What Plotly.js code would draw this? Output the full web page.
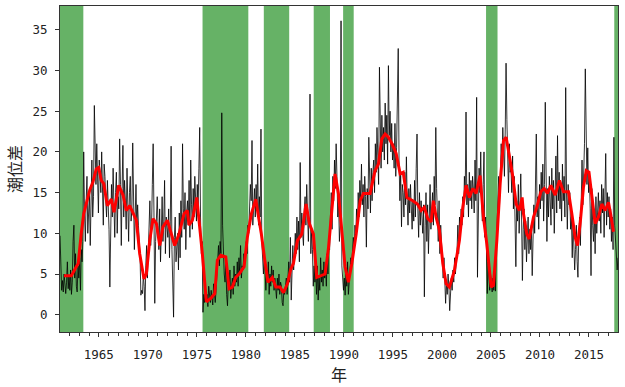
<!DOCTYPE html>
<html><head><meta charset="utf-8">
<script src="https://cdn.plot.ly/plotly-3.0.1.min.js"></script>
<style>body{margin:0;background:#fff}</style>
</head><body><div id="chart" style="width:625px;height:387px"></div>
<script>
// Monthly tide-level difference, one row per year (Jan..Dec), 1961-2017
const startYear = 1961;
const monthlyRows = [
[9.7,4.5,3.0,4.2,2.8,5.0,3.5,2.6,4.0,6.5,3.2,4.8],
[3.0,5.5,2.5,4.0,9.0,11.0,4.5,7.5,3.5,2.8,6.0,4.5],
[7.0,3.0,8.0,6.5,9.0,20.0,12.5,9.0,14.0,17.0,10.0,13.0],
[15.0,8.5,17.5,19.0,12.0,14.5,25.7,18.0,16.0,21.0,15.0,12.5],
[19.0,17.5,15.0,20.0,13.0,11.0,18.5,17.0,14.0,12.0,16.5,13.5],
[10.5,3.4,14.0,16.0,12.0,18.0,13.5,9.5,15.0,17.5,10.0,14.5],
[13.0,21.6,16.0,8.5,15.5,20.8,12.0,16.5,14.0,10.5,18.0,12.5],
[9.0,15.0,17.0,11.5,13.0,21.1,14.5,8.0,12.0,16.0,10.5,13.5],
[11.0,9.5,7.0,2.4,3.0,2.6,5.0,3.5,0.5,6.0,8.5,4.5],
[7.5,12.0,14.0,8.5,10.5,16.0,21.0,12.5,1.4,9.0,11.5,14.5],
[11.0,8.0,13.0,6.5,10.0,14.5,9.0,11.5,16.5,7.5,12.0,10.5],
[9.5,13.0,7.0,11.5,20.7,8.0,4.0,-0.3,9.5,12.0,6.5,8.5],
[10.0,5.5,12.5,7.0,14.0,9.5,21.0,13.0,10.5,15.0,8.0,12.5],
[14.0,11.0,16.5,9.5,19.0,13.5,10.5,15.5,12.0,17.0,14.5,11.5],
[16.0,13.0,18.0,23.0,12.0,7.5,9.0,0.3,2.5,1.5,3.0,1.8],
[2.5,1.0,3.5,2.0,1.5,3.0,2.2,1.2,3.8,2.5,1.5,3.0],
[5.5,7.0,8.5,6.0,9.0,7.5,24.8,11.0,6.5,5.0,4.0,6.5],
[2.5,1.1,4.0,3.0,5.5,2.0,3.5,4.5,2.5,6.0,3.5,5.0],
[4.0,6.5,3.5,7.0,5.0,8.5,4.5,6.0,5.5,7.5,6.5,8.0],
[9.0,7.5,11.0,10.0,12.5,16.0,14.0,21.4,11.0,13.5,15.5,12.0],
[16.0,13.0,18.5,11.0,14.5,12.0,22.8,9.0,6.0,5.0,7.5,4.0],
[3.0,5.5,4.0,6.5,2.5,5.0,3.5,6.0,4.0,5.5,3.0,4.5],
[3.5,2.0,4.5,3.0,5.0,2.5,4.0,3.5,1.5,1.1,3.0,2.5],
[3.5,4.5,2.5,5.0,6.5,4.0,9.5,1.8,7.0,8.5,5.5,9.0],
[10.0,7.5,12.0,8.0,11.5,6.5,18.7,9.5,12.5,10.0,8.5,13.0],
[14.5,11.0,16.0,12.5,9.0,13.0,27.1,7.5,10.5,8.0,3.5,6.0],
[4.0,5.5,2.5,6.0,1.8,4.5,3.0,7.0,4.0,5.5,3.5,6.5],
[4.5,6.0,3.5,7.5,5.0,9.0,8.0,12.0,15.0,10.5,17.0,14.0],
[19.0,15.5,21.0,17.0,12.0,14.0,9.0,11.0,36.1,6.0,4.0,3.0],
[4.5,2.4,5.0,3.5,6.5,2.5,4.0,5.5,7.0,6.0,8.5,9.5],
[8.0,11.0,9.5,13.0,10.5,15.0,12.0,16.5,14.0,18.5,13.5,16.0],
[12.0,17.0,14.5,8.3,15.5,13.0,21.8,16.0,12.5,18.0,14.0,17.5],
[19.0,15.0,21.0,17.5,23.0,19.5,16.0,30.4,22.0,18.0,24.5,20.0],
[23.0,19.0,26.0,21.0,24.5,18.5,30.6,22.0,25.0,20.0,23.5,19.0],
[21.0,18.0,23.5,17.0,20.5,25.0,32.7,19.0,14.0,17.5,10.8,16.0],
[15.0,12.0,17.5,13.5,19.4,14.0,11.0,15.5,12.5,16.0,13.0,10.5],
[14.0,11.5,16.5,12.0,18.0,22.2,13.0,9.5,15.0,11.0,14.0,12.5],
[10.0,13.5,2.2,11.0,15.0,9.0,13.5,7.5,12.0,16.0,10.5,12.5],
[15.0,11.0,17.0,13.5,23.0,15.5,12.0,9.0,14.0,7.5,11.0,8.5],
[6.0,4.5,7.0,3.0,1.4,4.0,2.5,5.0,3.5,0.5,2.0,4.5],
[3.0,5.5,4.0,7.0,5.0,6.5,8.0,11.0,7.5,12.0,9.5,13.0],
[11.0,14.5,12.0,17.0,15.0,24.9,13.5,16.0,12.0,17.5,14.0,16.5],
[13.0,17.0,15.5,12.5,19.0,14.0,26.7,4.6,16.5,18.0,15.0,20.0],
[14.0,11.5,16.0,20.0,9.5,12.0,8.0,2.6,6.5,4.0,3.0,5.0],
[3.5,2.8,4.5,3.0,5.5,2.9,8.0,11.5,14.0,17.0,13.5,19.0],
[21.0,18.5,23.0,20.0,17.0,22.8,30.9,24.0,19.5,15.0,21.0,17.5],
[18.0,15.0,19.5,13.0,17.0,12.5,5.9,14.0,11.5,16.0,10.0,13.5],
[17.3,12.0,4.2,10.5,13.0,8.0,11.5,6.5,9.0,12.0,7.5,10.5],
[8.0,11.0,4.8,9.5,13.5,10.0,15.0,22.2,12.0,14.5,10.5,16.0],
[13.0,17.5,14.0,18.5,11.5,16.0,26.1,13.5,9.0,15.5,12.0,17.0],
[14.5,11.0,18.0,13.0,16.5,10.0,15.0,19.5,12.5,22.0,14.0,17.5],
[13.0,16.0,11.5,18.5,14.0,17.0,12.0,27.9,15.0,10.5,16.0,13.5],
[15.0,10.5,12.0,7.0,11.5,9.0,5.5,8.0,11.0,6.5,4.6,9.5],
[12.0,8.5,15.0,19.0,13.5,17.0,21.0,30.2,18.5,16.0,20.5,15.0],
[17.0,13.0,4.8,15.5,11.0,9.0,13.0,7.5,14.5,10.0,12.5,15.0],
[11.5,14.0,10.0,16.0,12.5,15.5,9.5,14.0,19.8,11.0,15.0,12.0],
[14.5,10.5,13.0,9.0,12.0,8.0,21.8,11.0,9.0,6.0,5.5,7.0]
];

// Smoothed (running-mean) curve
const smoothYears = [
1961.45,1962.2,1962.7,1962.9,1963.2,1963.46,1964.07,1964.4,1964.74,1964.99,
1965.25,1965.5,1965.87,1966.28,1966.55,1967.03,1967.47,1967.8,1968.15,1968.49,
1968.83,1969.17,1969.61,1969.85,1970.19,1970.53,1970.87,1971.21,1971.55,1971.99,
1972.4,1972.74,1973.18,1973.69,1974.03,1974.2,1974.54,1974.99,1975.22,1975.56,
1975.97,1976.42,1976.83,1977.09,1977.44,1977.95,1978.29,1978.62,1978.97,1979.31,
1979.82,1980.15,1980.56,1981.01,1981.24,1981.58,1981.93,1982.26,1982.7,1983.05,
1983.49,1983.83,1984.24,1984.58,1984.85,1985.26,1985.7,1986.14,1986.48,1986.89,
1987.23,1987.74,1988.08,1988.42,1988.77,1989.1,1989.44,1989.79,1990.12,1990.46,
1990.81,1991.25,1991.66,1991.99,1992.67,1993.18,1993.52,1993.87,1994.2,1994.54,
1994.9,1995.33,1995.74,1996.05,1996.42,1997.03,1997.5,1997.88,1998.2,1998.56,
1998.9,1999.13,1999.4,1999.74,2000.09,2000.43,2000.76,2001.27,2001.78,2002.13,
2002.47,2002.8,2003.15,2003.48,2003.89,2004.23,2004.58,2005.02,2005.25,2005.6,
2005.94,2006.28,2006.55,2006.89,2007.24,2007.57,2007.9,2008.18,2008.32,2008.66,
2008.9,2009.34,2009.68,2010.09,2010.43,2010.77,2011.11,2011.55,2011.99,2012.4,
2012.91,2013.25,2013.59,2013.83,2014.1,2014.44,2014.72,2015.0,2015.3,2015.63,
2015.97,2016.31,2016.65,2016.99,2017.2,2017.5
];
const smoothValues = [
4.8,4.8,5.9,6.3,9.9,12.4,15.3,16.3,17.9,18.1,
16.5,16.1,13.4,14.2,12.6,15.9,14.7,12.8,13.4,12.4,
11.6,7.5,4.4,5.0,9.1,11.8,11.2,8.5,10.8,11.6,
9.9,8.5,9.9,12.4,12.8,11.0,11.6,14.4,11.6,7.5,
1.6,2.0,2.6,6.7,7.3,7.1,3.2,3.4,4.6,5.0,
5.9,9.5,12.4,14.2,12.4,9.9,6.7,4.0,4.6,3.4,
3.4,2.7,3.8,5.6,6.3,9.1,9.9,13.6,11.2,9.9,
4.6,4.8,5.0,8.1,12.4,17.3,14.9,9.9,5.9,4.0,
6.3,9.9,14.0,14.9,14.9,17.7,18.5,21.6,22.2,21.8,
21.0,19.8,17.3,17.5,14.4,14.0,13.6,12.8,13.2,11.8,
11.4,14.0,12.0,10.4,6.3,3.8,3.4,5.4,9.1,13.2,
15.9,14.4,15.5,14.9,17.1,12.0,8.7,3.4,3.6,9.1,
16.1,21.4,21.8,19.4,16.9,13.6,12.8,14.4,12.4,9.9,
9.3,12.0,13.2,15.1,15.5,14.9,15.9,14.7,16.5,15.1,
15.1,12.4,9.5,8.5,11.2,15.7,17.7,17.5,14.4,11.2,
12.0,13.6,12.8,13.8,12.4,10.2
];

// Shaded periods (start / end, decimal years)
const periodStart = [1959.33, 1975.58, 1981.83, 1986.92, 1989.92, 2004.5, 2017.58];
const periodEnd   = [1963.42, 1980.25, 1984.42, 1988.58, 1991.0, 2005.67, 2018.5];

const xTickVals = [1965, 1970, 1975, 1980, 1985, 1990, 1995, 2000, 2005, 2010, 2015];
const yTickVals = [0, 5, 10, 15, 20, 25, 30, 35];
const xTitle = '年';
const yTitle = '潮位差';

const monthlyX = [], monthlyY = [];
monthlyRows.forEach((row, yi) => row.forEach((v, mi) => {
  monthlyX.push(startYear + yi + (mi + 0.5) / 12);
  monthlyY.push(v);
}));

const traces = [
  {x: monthlyX, y: monthlyY, type: 'scatter', mode: 'lines',
   line: {color: '#000000', width: 0.8}, hoverinfo: 'skip'},
  {x: smoothYears, y: smoothValues, type: 'scatter', mode: 'lines',
   line: {color: '#ff0000', width: 3}, hoverinfo: 'skip'}
];

const shapes = periodStart.map((s, i) => ({
  type: 'rect', xref: 'x', yref: 'paper', x0: s, x1: periodEnd[i], y0: 0, y1: 1,
  fillcolor: 'rgb(102,178,102)', line: {width: 0}, layer: 'below'
}));

const tickFont = {family: 'DejaVu Sans Mono, monospace', size: 12.5, color: '#222'};
const layout = {
  width: 625, height: 387,
  margin: {l: 60, r: 7, t: 6, b: 55},
  paper_bgcolor: '#ffffff', plot_bgcolor: '#ffffff',
  showlegend: false,
  shapes: shapes,
  xaxis: {
    range: [1961.04, 2017.96], tickvals: xTickVals, ticktext: xTickVals.map(String),
    ticks: 'outside', ticklen: 4, tickwidth: 1, tickcolor: '#333',
    ticklabelstandoff: 7,
    minor: {dtick: 1, tick0: 1961, ticks: 'outside', ticklen: 2.5, tickcolor: '#333', showgrid: false},
    showgrid: false, zeroline: false, showline: true, mirror: true, linecolor: '#333', linewidth: 1,
    tickfont: tickFont,
    title: {text: xTitle, font: {family: 'Noto Sans CJK JP', size: 16, color: '#222'}, standoff: 4}
  },
  yaxis: {
    range: [-2.12, 37.92], tickvals: yTickVals,
    ticks: 'outside', ticklen: 4, tickwidth: 1, tickcolor: '#333',
    ticklabelstandoff: 5,
    showgrid: false, zeroline: false, showline: true, mirror: true, linecolor: '#333', linewidth: 1,
    tickfont: tickFont,
    title: {text: yTitle, font: {family: 'Noto Sans CJK JP', size: 16, color: '#222'}, standoff: 6}
  }
};

Plotly.newPlot('chart', traces, layout, {displayModeBar: false, staticPlot: true});
</script>
</body></html>
